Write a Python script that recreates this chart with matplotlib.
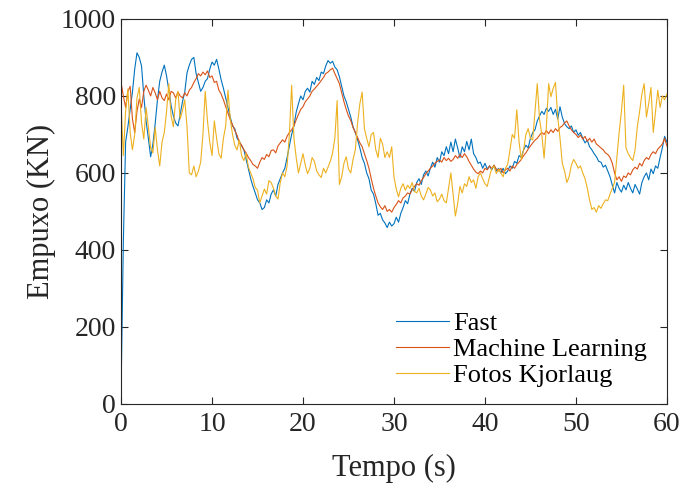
import numpy as np
import matplotlib.pyplot as plt

# Empuxo (KN) amostrado a cada 0.25 s, de 0 a 60 s
fast = [
    30, 420, 680, 720, 765, 810, 870, 912,
    900, 878, 800, 735, 690, 642, 675, 728,
    790, 838, 862, 880, 852, 815, 775, 748,
    730, 722, 752, 785, 810, 860, 880, 895,
    900, 858, 835, 812, 822, 838, 845, 870,
    888, 880, 895, 870, 842, 820, 795, 770,
    745, 722, 715, 690, 682, 670, 660, 635,
    610, 585, 565, 548, 530, 522, 505, 510,
    530, 522, 545, 556, 540, 570, 585, 600,
    612, 640, 670, 700, 722, 758, 780, 800,
    790, 812, 820, 810, 838, 830, 848, 840,
    862, 858, 878, 892, 885, 890, 875, 868,
    850, 825, 800, 785, 765, 745, 720, 705,
    686, 665, 640, 625, 600, 585, 555, 545,
    520, 490, 495, 478, 470, 458, 472, 462,
    468, 485, 472, 495, 510, 528, 520, 545,
    560, 552, 575, 585, 570, 595, 605, 592,
    612, 628, 615, 640, 628, 655, 645, 668,
    650, 680, 655, 688, 665, 640, 668, 655,
    682, 660, 688, 650, 640, 625, 628, 612,
    625, 610, 618, 608, 620, 605, 612, 600,
    612, 598, 605, 618, 612, 630, 625, 645,
    640, 660, 672, 665, 690, 705, 712, 735,
    748, 760, 752, 768, 760, 770, 752, 765,
    740, 772, 745, 728, 720, 715, 722, 705,
    712, 698, 705, 690, 678, 685, 668, 660,
    650, 642, 630, 628, 615, 620, 605, 590,
    568, 548, 575, 560, 550, 568, 556, 575,
    560, 548, 570, 558, 545, 575, 590, 600,
    582, 610, 598, 618, 612, 640, 665, 695,
    680,
]

ml = [
    835, 800, 770, 812, 825, 740, 705, 760,
    792, 770, 812, 828, 815, 800, 822, 808,
    790, 812, 795, 788, 805, 790, 812, 808,
    795, 810, 800, 795, 808, 800, 815, 822,
    835, 845, 858, 852, 862, 855, 865, 848,
    852, 835, 838, 815, 805, 790, 772, 755,
    738, 725, 710, 698, 680, 672, 660, 652,
    640, 632, 622, 618, 612, 628, 640, 635,
    648, 642, 658, 660, 652, 670, 678, 686,
    680, 695, 705, 712, 722, 738, 752, 765,
    772, 785, 792, 800, 812, 818, 825, 832,
    840, 848, 858, 862, 868, 872, 858, 845,
    832, 808, 785, 765, 748, 736, 718, 705,
    692, 678, 668, 650, 632, 612, 585, 560,
    540, 522, 512, 505, 515, 500, 505, 498,
    510, 518, 528, 522, 535, 540, 548, 545,
    556, 565, 572, 568, 580, 588, 598, 605,
    612, 618, 625, 630, 634, 628, 640, 632,
    638, 630, 635, 645, 638, 648, 640, 650,
    642, 630, 620, 610, 602, 598, 605, 600,
    612, 608, 618, 612, 620, 610, 605, 612,
    600, 608, 612, 605, 618, 612, 622, 628,
    635, 645, 652, 662, 670, 678, 685, 690,
    698, 705, 700, 710, 702, 712, 705, 715,
    708, 718, 722, 730, 735, 722, 712, 705,
    700, 692, 698, 688, 695, 682, 690, 680,
    688, 675, 670, 665, 660, 652, 648, 640,
    625, 600, 582, 590, 578, 592, 588, 600,
    595, 608, 615, 610, 625, 618, 632, 640,
    635, 648, 655, 650, 662, 668, 675, 690,
    670,
]

fotos = [
    780, 645, 760, 818, 705, 660, 700, 795,
    822, 730, 688, 770, 720, 665, 652, 718,
    660, 618, 680, 705, 760, 832, 748, 720,
    790, 812, 740, 762, 790, 720, 600, 595,
    618, 590, 605, 628, 700, 812, 735, 680,
    645, 735, 690, 650, 638, 690, 722, 815,
    740, 700, 672, 660, 685, 645, 632, 650,
    615, 600, 585, 562, 555, 522, 540, 558,
    545, 580, 575, 560, 540, 532, 575, 600,
    590, 618, 700, 828, 690, 640, 600, 625,
    650, 620, 598, 612, 640, 630, 605, 595,
    588, 612, 600, 615, 630, 652, 690, 788,
    570, 590, 625, 642, 610, 600, 635, 660,
    730, 780, 810, 715, 690, 668, 700, 705,
    660, 640, 690, 675, 640, 655, 640, 668,
    590, 558, 538, 560, 572, 555, 568, 560,
    575, 552, 548, 560, 540, 530, 545, 562,
    556, 540, 548, 525, 532, 545, 528, 522,
    560, 600, 545, 488, 520, 565, 548, 572,
    565, 590, 575, 582, 560, 590, 600, 585,
    572, 565, 590, 612, 618, 598, 610, 600,
    590, 612, 622, 660, 700, 690, 764, 680,
    635, 660, 700, 715, 690, 686, 760, 832,
    740, 700, 638, 720, 832, 798, 820, 835,
    745, 690, 625, 605, 575, 590, 620, 635,
    625, 612, 618, 600, 585, 560, 530, 505,
    510, 498, 515, 508, 520, 530, 528, 545,
    560, 575, 640, 705, 760, 828, 665, 650,
    640, 632, 660, 720, 760, 805, 832, 745,
    780, 822, 705, 760, 815, 770, 800, 790,
    805,
]

nomes = ['Fast', 'Machine Learning', 'Fotos Kjorlaug']
cores = ['#0072BD', '#D95319', '#EDB120']

plt.rcParams['font.family'] = ['Liberation Serif', 'DejaVu Serif']

fig = plt.figure(figsize=(6.84, 4.86), dpi=100)
ax = fig.add_axes([0.177, 0.169, 0.798, 0.792])

for serie, nome, cor in zip([fast, ml, fotos], nomes, cores):
    t = np.linspace(0, 60, len(serie))
    ax.plot(t, serie, color=cor, linewidth=0.8, label=nome)

ax.set_xlim(0, 60)
ax.set_ylim(0, 1000)
ax.set_xticks(np.arange(0, 61, 10))
ax.set_yticks(np.arange(0, 1001, 200))
ax.tick_params(direction='in', top=True, right=True, labelsize=20,
               length=5, width=0.8, color='#262626', labelcolor='#262626')
ax.tick_params(axis='x', pad=6)
for s in ax.spines.values():
    s.set_color('#262626')
    s.set_linewidth(0.8)

ax.set_xlabel('Tempo (s)', fontsize=22, color='#262626', labelpad=12)
ax.set_ylabel('Empuxo (KN)', fontsize=22, color='#262626')

ax.legend(loc='lower left', bbox_to_anchor=(0.47, -0.005), frameon=False,
          fontsize=19, handlelength=2.0, handletextpad=0.15,
          labelspacing=0.1, borderpad=0.2)

plt.savefig('out.png', dpi=100)
